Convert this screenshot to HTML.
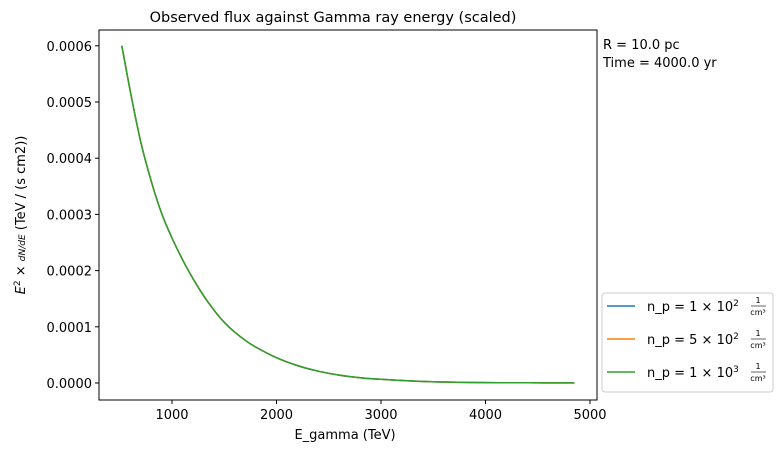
<!DOCTYPE html>
<html><head><meta charset="utf-8"><style>
body{margin:0;background:#fff;font-family:"DejaVu Sans","Liberation Sans",sans-serif;}
svg text{font-family:"DejaVu Sans","Liberation Sans",sans-serif;fill:#000}
</style></head><body>
<svg id="chart" width="781" height="453" xmlns="http://www.w3.org/2000/svg">
<text x="333" y="22" font-size="14.5" text-anchor="middle">Observed flux against Gamma ray energy (scaled)</text>
<g id="plot"></g>
<rect x="99" y="30" width="498" height="370" fill="none" stroke="#000" stroke-width="1"/>
<text x="345" y="439" font-size="13" text-anchor="middle">E_gamma (TeV)</text>
<text transform="translate(25,215) rotate(-90)" font-size="13" text-anchor="middle"><tspan font-style="italic">E</tspan><tspan dy="-5" font-size="9">2</tspan><tspan dy="5"> × </tspan><tspan font-style="italic" font-size="9">dN/dE</tspan> (TeV / (s cm2))</text>
<text x="603" y="49" font-size="13">R = 10.0 pc</text>
<text x="603" y="67" font-size="13">Time = 4000.0 yr</text>
<g>
<rect x="602" y="293" width="171" height="99" rx="3" fill="#fff" stroke="#ccc"/>
<g><line x1="607" y1="306" x2="635" y2="306" stroke="#1f77b4" stroke-width="1.5"/><text x="647" y="311" font-size="13">n_p = 1 × 10<tspan dy="-5" font-size="9">2</tspan></text><text x="758" y="303" font-size="8" text-anchor="middle">1</text><line x1="751" y1="306" x2="766" y2="306" stroke="#000" stroke-width="0.6"/><text x="758" y="315" font-size="8" text-anchor="middle">cm³</text></g>
<g><line x1="607" y1="339" x2="635" y2="339" stroke="#ff7f0e" stroke-width="1.5"/><text x="647" y="344" font-size="13">n_p = 5 × 10<tspan dy="-5" font-size="9">2</tspan></text><text x="758" y="336" font-size="8" text-anchor="middle">1</text><line x1="751" y1="339" x2="766" y2="339" stroke="#000" stroke-width="0.6"/><text x="758" y="348" font-size="8" text-anchor="middle">cm³</text></g>
<g><line x1="607" y1="372" x2="635" y2="372" stroke="#2ca02c" stroke-width="1.5"/><text x="647" y="377" font-size="13">n_p = 1 × 10<tspan dy="-5" font-size="9">3</tspan></text><text x="758" y="369" font-size="8" text-anchor="middle">1</text><line x1="751" y1="372" x2="766" y2="372" stroke="#000" stroke-width="0.6"/><text x="758" y="381" font-size="8" text-anchor="middle">cm³</text></g>
</g>
</svg>
<script>
const energies=[520,600,700,800,900,1000,1100,1200,1300,1400,1500,1600,1700,1800,2000,2200,2400,2600,2800,3000,3300,3600,4000,4400,4850];
const flux1e2=[0.0006,0.00052,0.00043,0.00036,0.000302,0.000258,0.00022,0.000186,0.000156,0.00013,0.000108,0.0000905,0.000076,0.000064,0.000045,0.000031,0.000021,0.000014,0.0000095,0.0000065,0.0000035,0.0000018,0.0000007,0.0000003,0.0000001];
const flux5e2=flux1e2.slice();
const flux1e3=flux1e2.slice();
const xTicks=[1000,2000,3000,4000,5000];
const yTicks=[0,0.0001,0.0002,0.0003,0.0004,0.0005,0.0006];
const yTickLabels=["0.0000","0.0001","0.0002","0.0003","0.0004","0.0005","0.0006"];
const NS="http://www.w3.org/2000/svg";
const xs=v=>67.5+v*0.1045;
const ys=v=>383-v*562000;
const g=document.getElementById('plot');
function mk(t,a){const e=document.createElementNS(NS,t);for(const k in a)e.setAttribute(k,a[k]);return e;}
xTicks.forEach(t=>{
 const l=mk('line',{x1:xs(t),x2:xs(t),y1:400,y2:404,stroke:'#000'});
 
 
 g.appendChild(l);
 const tx=mk('text',{x:xs(t),y:419,'font-size':13,'text-anchor':'middle'});tx.textContent=t;
 
 
 g.appendChild(tx);
});
yTicks.forEach((t,i)=>{
 const l=mk('line',{x1:95,x2:99,y1:ys(t),y2:ys(t),stroke:'#000'});
 
 
 g.appendChild(l);
 const tx=mk('text',{x:92,y:ys(t)+5,'font-size':13,'text-anchor':'end'});tx.textContent=yTickLabels[i];
 
 
 g.appendChild(tx);
});
function smoothPath(P){
 let d='M'+P[0][0].toFixed(1)+','+P[0][1].toFixed(1);
 for(let i=0;i<P.length-1;i++){
  const p0=P[Math.max(0,i-1)],p1=P[i],p2=P[i+1],p3=P[Math.min(P.length-1,i+2)];
  const c1=[p1[0]+(p2[0]-p0[0])/6,p1[1]+(p2[1]-p0[1])/6];
  const c2=[p2[0]-(p3[0]-p1[0])/6,p2[1]-(p3[1]-p1[1])/6];
  d+=' C'+c1.map(v=>v.toFixed(1)).join(',')+' '+c2.map(v=>v.toFixed(1)).join(',')+' '+p2.map(v=>v.toFixed(1)).join(',');
 }
 return d;
}
[[flux1e2,'#1f77b4','series-1e2'],[flux5e2,'#ff7f0e','series-5e2'],[flux1e3,'#2ca02c','series-1e3']].forEach(s=>{
 const P=energies.map((e,i)=>[xs(e),ys(s[0][i])]);
 const p=mk('path',{d:smoothPath(P),fill:'none',stroke:s[1],'stroke-width':1.5,'stroke-linejoin':'round'});
 
 
 g.appendChild(p);
});
</script>
</body></html>
